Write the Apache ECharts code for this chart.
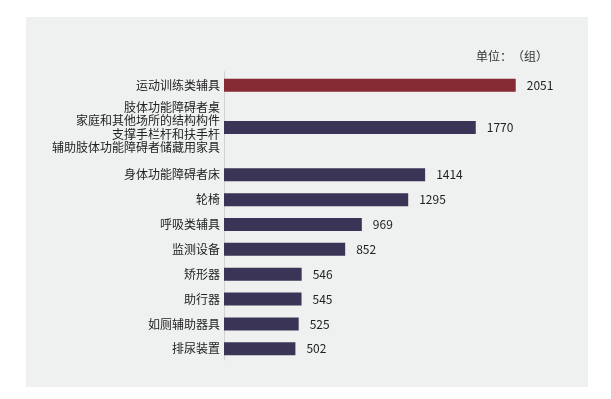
<!DOCTYPE html>
<html>
<head>
<meta charset="utf-8">
<script src="https://cdn.jsdelivr.net/npm/echarts@6/dist/echarts.min.js"></script>
<style>
html,body{margin:0;padding:0;background:#fff;}
#c{width:611px;height:399px;}
</style>
</head>
<body>
<div id="c"></div>
<script>
// ---- data ----
const categories = [
  '运动训练类辅具',
  '肢体功能障碍者桌\n家庭和其他场所的结构构件\n支撑手栏杆和扶手杆\n辅助肢体功能障碍者储藏用家具',
  '身体功能障碍者床',
  '轮椅',
  '呼吸类辅具',
  '监测设备',
  '矫形器',
  '助行器',
  '如厕辅助器具',
  '排尿装置'
];
const values = [2051, 1770, 1414, 1295, 969, 852, 546, 545, 525, 502];
const unitPrefix = '单位：';
const unitName = '（组）';

// ---- layout (row spacing in fine slots) ----
const leadSlots = 5;
const gapSlots = [17, 19, 10, 10, 10, 10, 10, 10, 10];
const trailSlots = 4;

const axisCats = [], axisVals = [];
let g = 0;
function pushBlank(n){ for(let i=0;i<n;i++){ axisCats.push('__gap' + (g++)); axisVals.push(null); } }
pushBlank(leadSlots);
categories.forEach((c, i) => {
  if (i > 0) pushBlank(gapSlots[i-1] - 1);
  axisCats.push(c); axisVals.push(values[i]);
});
pushBlank(trailSlots);

const RED = '#862a33', NAVY = '#3a3556';
const FONT = '"Noto Sans CJK SC", "Noto Sans", sans-serif';

const chart = echarts.init(document.getElementById('c'), null, {renderer: 'canvas'});
chart.setOption({
  backgroundColor: '#ffffff',
  animation: false,
  graphic: [
    { type: 'rect', z: -10, shape: {x: 26, y: 17, width: 562, height: 370}, style: {fill: '#eff0f0'} },
    { type: 'text', left: 476, top: 50, style: {
        text: '{a|' + unitPrefix + '}{b|' + unitName + '}',
        rich: {
          a: {fill: '#333', fontSize: 12, fontFamily: FONT},
          b: {fill: '#333', fontSize: 12, fontFamily: FONT}
        }
    } }
  ],
  grid: { left: 224, right: 31.4, top: 71.6, bottom: 39, containLabel: false },
  xAxis: {
    type: 'value', min: 0, max: 2500, show: false
  },
  yAxis: {
    type: 'category',
    inverse: true,
    data: axisCats,
    axisLine: { show: true, lineStyle: { color: '#d2d2d2', width: 1 } },
    axisTick: { show: false },
    splitLine: { show: false },
    axisLabel: {
      interval: 0, margin: 4, color: '#222', fontSize: 12, fontFamily: FONT, lineHeight: 13.5,
      formatter: v => v.startsWith('__gap') ? '' : v
    }
  },
  series: [{
    type: 'bar',
    data: axisVals,
    barWidth: 13,
    itemStyle: { color: p => p.dataIndex === leadSlots ? RED : NAVY },
    label: {
      show: true, position: 'right', distance: 11, color: '#222', fontSize: 12, fontFamily: FONT,
      formatter: p => p.value == null ? '' : String(p.value)
    }
  }]
});
</script>
</body>
</html>
